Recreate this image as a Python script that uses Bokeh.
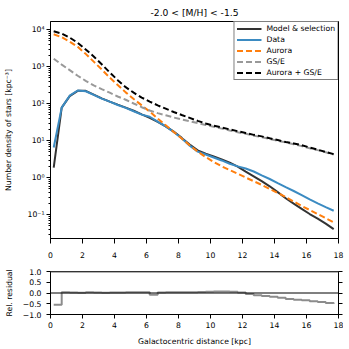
from bokeh.plotting import figure
from bokeh.models import Range1d, FixedTicker, Legend, LegendItem, Span, LinearAxis
from bokeh.layouts import column
from bokeh.embed import file_html
from bokeh.resources import INLINE

# ---------------- data ----------------
distance = [0.2, 0.7, 1.2, 1.7, 2.2, 2.7, 3.2, 3.7, 4.2, 4.7, 5.2, 5.7,
            6.2, 6.7, 7.2, 7.7, 8.2, 8.7, 9.2, 9.7, 10.2, 10.7, 11.2, 11.7,
            12.2, 12.7, 13.2, 13.7, 14.2, 14.7, 15.2, 15.7, 16.2, 16.7, 17.2, 17.7]

model_selection = [1.9, 79, 162, 224, 224, 178, 141, 115, 95, 79, 65, 52,
                   41.7, 32.4, 24.5, 17.8, 12.0, 7.9, 5.5, 4.47, 3.8, 3.16, 2.57, 2.0,
                   1.48, 1.10, 0.81, 0.59, 0.41, 0.28, 0.20, 0.145, 0.105, 0.079, 0.058, 0.041]

data_density = [6.6, 79, 166, 229, 219, 174, 138, 115, 93, 78, 63, 51,
                44.7, 33, 24.5, 17.4, 11.7, 7.4, 5.1, 4.27, 3.55, 2.95, 2.40, 2.04,
                1.78, 1.48, 1.17, 0.93, 0.72, 0.56, 0.44, 0.34, 0.26, 0.204, 0.162, 0.129]

aurora = [7590, 6310, 4790, 3470, 2240, 1380, 851, 513, 324, 204, 135, 91,
          61.7, 39.8, 26.3, 17.4, 11.5, 7.6, 5.13, 3.63, 2.69, 2.04, 1.62, 1.29,
          1.02, 0.81, 0.646, 0.501, 0.389, 0.302, 0.229, 0.174, 0.135, 0.105, 0.081, 0.063]

gse = [1660, 1150, 813, 575, 417, 316, 251, 200, 158, 129, 102, 81,
       66, 56, 49, 42.7, 38, 33.9, 30.2, 26.9, 24, 21.4, 19.1, 17,
       15.5, 13.8, 12.6, 11.2, 10.0, 9.1, 8.1, 7.2, 6.3, 5.6, 4.9, 4.27]

aurora_gse = [9120, 7940, 6170, 4470, 2950, 1905, 1175, 708, 437, 282, 200, 148,
              115, 91, 74, 60, 50, 41.7, 34.7, 29.5, 25.7, 22.9, 20.4, 18.2,
              16.2, 14.5, 13.2, 11.7, 10.5, 9.3, 8.5, 7.6, 6.6, 5.75, 5.0, 4.37]

rel_residual = [-0.55, 0.03, 0.02, 0.01, 0.03, 0.02, 0.01, 0.02, 0.02, 0.03, 0.03, 0.03,
                -0.08, 0.02, 0.03, 0.04, 0.04, 0.04, 0.05, 0.06, 0.07, 0.07, 0.06, 0.02,
                -0.05, -0.10, -0.14, -0.18, -0.22, -0.28, -0.31, -0.34, -0.38, -0.42, -0.46, -0.50]

x_ticks = [0, 2, 4, 6, 8, 10, 12, 14, 16, 18]
y_ticks = [0.1, 1, 10, 100, 1000, 10000]
y_tick_labels = ["10⁻¹", "10⁰", "10¹", "10²", "10³", "10⁴"]
res_ticks = [-1.0, -0.5, 0.0, 0.5, 1.0]
res_tick_labels = ["−1.0", "−0.5", "0.0", "0.5", "1.0"]

title_text = "-2.0 < [M/H] < -1.5"
FONT = "DejaVu Sans"
FS = "7.7px"

# ---------------- main panel ----------------
p = figure(frame_width=288, frame_height=217,
           min_border_left=43, min_border_right=6, min_border_top=21, min_border_bottom=20,
           x_range=Range1d(0, 18), y_range=Range1d(0.0229, 16800), y_axis_type="log",
           output_backend="svg", toolbar_location=None)
p.grid.visible = False
p.outline_line_color = "black"
p.outline_line_alpha = 1
p.background_fill_color = "white"
p.border_fill_color = "white"

p.title.text = title_text
p.title.align = "center"
p.title.text_font = FONT
p.title.text_font_size = "9.2px"
p.title.text_font_style = "normal"
p.title.text_color = "black"
p.title.standoff = 8

r_model = p.line(distance, model_selection, line_color="#333333", line_width=2)
r_data = p.line(distance, data_density, line_color="#3b8bc2", line_width=2)
r_aur = p.line(distance, aurora, line_color="#ff7f0e", line_width=2, line_dash="6 3")
r_gse = p.line(distance, gse, line_color="#999999", line_width=2, line_dash="6 3")
r_tot = p.line(distance, aurora_gse, line_color="black", line_width=2, line_dash="6 3")

minor = []
for dec in [0.01, 0.1, 1, 10, 100, 1000, 10000]:
    for k in range(2, 10):
        minor.append(dec * k)

p.yaxis.ticker = FixedTicker(ticks=y_ticks, minor_ticks=minor)
p.yaxis.major_label_overrides = dict(zip(y_ticks, y_tick_labels))
p.yaxis.major_tick_out = 4
p.yaxis.major_tick_in = 0
p.yaxis.minor_tick_out = 2
p.yaxis.minor_tick_in = 0
p.yaxis.major_label_standoff = 2
p.yaxis.axis_label = "Number density of stars [kpc⁻³]"
p.yaxis.axis_label_standoff = 12

p.xaxis.ticker = FixedTicker(ticks=x_ticks, minor_ticks=[])
p.xaxis.major_tick_out = 5
p.xaxis.major_tick_in = 0
p.xaxis.major_label_standoff = 8

for ax in [p.xaxis, p.yaxis]:
    ax.axis_line_color = "black"
    ax.major_tick_line_color = "black"
    ax.minor_tick_line_color = "black"
    ax.major_label_text_font = FONT
    ax.major_label_text_font_size = FS
    ax.major_label_text_color = "black"
    ax.axis_label_text_font = FONT
    ax.axis_label_text_font_size = FS
    ax.axis_label_text_font_style = "normal"
    ax.axis_label_text_color = "black"

legend = Legend(items=[
    LegendItem(label="Model & selection", renderers=[r_model]),
    LegendItem(label="Data", renderers=[r_data]),
    LegendItem(label="Aurora", renderers=[r_aur]),
    LegendItem(label="GS/E", renderers=[r_gse]),
    LegendItem(label="Aurora + GS/E", renderers=[r_tot]),
], location="top_right", padding=2, spacing=2, margin=0,
    glyph_width=25, glyph_height=9, label_height=9, label_standoff=5,
    label_text_font=FONT, label_text_font_size=FS, label_text_color="black",
    border_line_color="black", border_line_width=1, background_fill_alpha=1)
p.add_layout(legend)

# ---------------- residual panel ----------------
p2 = figure(frame_width=288, frame_height=43,
            min_border_left=43, min_border_right=6, min_border_top=11, min_border_bottom=32,
            x_range=Range1d(0, 18), y_range=Range1d(-1, 1),
            output_backend="svg", toolbar_location=None)
p2.grid.visible = False
p2.outline_line_color = "black"
p2.outline_line_alpha = 1

p2.add_layout(Span(location=1, dimension="width", line_color="#666666", line_width=2))
p2.add_layout(Span(location=0, dimension="width", line_color="black", line_width=1))
p2.step(distance, rel_residual, mode="after", line_color="#8c8c8c", line_width=2)

p2.yaxis.ticker = FixedTicker(ticks=res_ticks, minor_ticks=[])
p2.yaxis.major_label_overrides = dict(zip(res_ticks, res_tick_labels))
p2.yaxis.major_tick_out = 4
p2.yaxis.major_tick_in = 0
p2.yaxis.major_label_standoff = 5
p2.yaxis.axis_label = "Rel. residual"
p2.yaxis.axis_label_standoff = 6

p2.xaxis.ticker = FixedTicker(ticks=x_ticks, minor_ticks=[])
p2.xaxis.major_tick_out = 4
p2.xaxis.major_tick_in = 0
p2.xaxis.major_label_standoff = 3
p2.xaxis.axis_label = "Galactocentric distance [kpc]"
p2.xaxis.axis_label_standoff = 6

right_ax = LinearAxis(ticker=FixedTicker(ticks=res_ticks, minor_ticks=[]))
right_ax.major_label_overrides = {t: "" for t in res_ticks}
right_ax.major_label_text_color = None
right_ax.major_tick_out = 4
right_ax.major_tick_in = 0
right_ax.major_label_standoff = 0
right_ax.axis_line_color = "black"
p2.add_layout(right_ax, "right")

for ax in [p2.xaxis[0], p2.yaxis[0]]:
    ax.axis_line_color = "black"
    ax.major_tick_line_color = "black"
    ax.major_label_text_font = FONT
    ax.major_label_text_font_size = FS
    ax.major_label_text_color = "black"
    ax.axis_label_text_font = FONT
    ax.axis_label_text_font_size = FS
    ax.axis_label_text_font_style = "normal"
    ax.axis_label_text_color = "black"

layout = column(p, p2, spacing=0)
open("out.html", "w").write(file_html(layout, INLINE))
